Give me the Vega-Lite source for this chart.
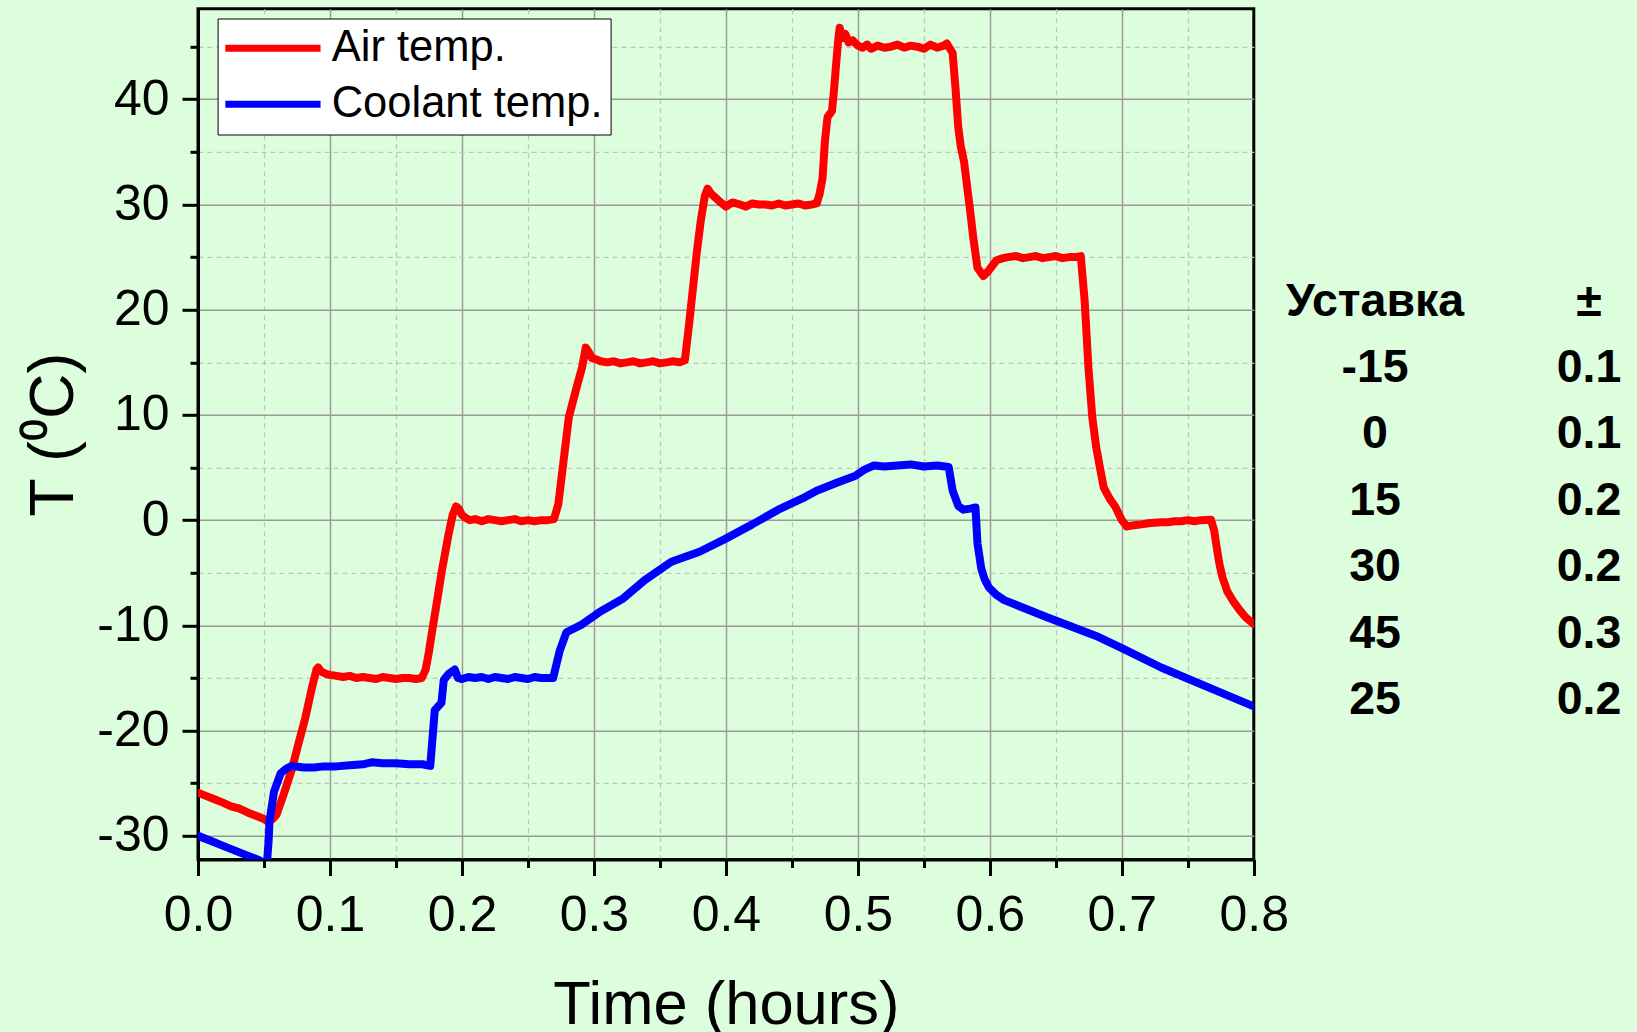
{
  "$schema": "https://vega.github.io/schema/vega-lite/v6.json",
  "background": "#DCFEDC",
  "padding": {"left": 21, "top": 6.8, "right": 20, "bottom": 0},
  "spacing": 121,
  "bounds": "flush",
  "hconcat": [
    {
      "width": 1055.8,
      "height": 850.7,
      "view": {"stroke": "black", "strokeWidth": 3},
      "data": {"values": [
        {"t":0,"T":-25.9,"s":"Air temp."},{"t":0.006,"T":-26.2,"s":"Air temp."},{"t":0.012,"T":-26.5,"s":"Air temp."},{"t":0.018,"T":-26.8,"s":"Air temp."},{"t":0.025,"T":-27.2,"s":"Air temp."},{"t":0.031,"T":-27.4,"s":"Air temp."},{"t":0.038,"T":-27.8,"s":"Air temp."},{"t":0.044,"T":-28.1,"s":"Air temp."},{"t":0.05,"T":-28.4,"s":"Air temp."},{"t":0.0535,"T":-28.7,"s":"Air temp."},{"t":0.0565,"T":-28.4,"s":"Air temp."},{"t":0.0595,"T":-28.0,"s":"Air temp."},{"t":0.0645,"T":-26.2,"s":"Air temp."},{"t":0.0711,"T":-23.7,"s":"Air temp."},{"t":0.0762,"T":-21.2,"s":"Air temp."},{"t":0.0813,"T":-18.8,"s":"Air temp."},{"t":0.0864,"T":-15.9,"s":"Air temp."},{"t":0.0897,"T":-14.2,"s":"Air temp."},{"t":0.091,"T":-14.0,"s":"Air temp."},{"t":0.0935,"T":-14.4,"s":"Air temp."},{"t":0.097,"T":-14.6,"s":"Air temp."},{"t":0.1,"T":-14.7,"s":"Air temp."},{"t":0.105,"T":-14.8,"s":"Air temp."},{"t":0.11,"T":-14.9,"s":"Air temp."},{"t":0.115,"T":-14.8,"s":"Air temp."},{"t":0.12,"T":-15.0,"s":"Air temp."},{"t":0.125,"T":-14.9,"s":"Air temp."},{"t":0.13,"T":-15.0,"s":"Air temp."},{"t":0.135,"T":-15.1,"s":"Air temp."},{"t":0.14,"T":-14.9,"s":"Air temp."},{"t":0.145,"T":-15.0,"s":"Air temp."},{"t":0.15,"T":-15.1,"s":"Air temp."},{"t":0.155,"T":-15.0,"s":"Air temp."},{"t":0.16,"T":-15.0,"s":"Air temp."},{"t":0.165,"T":-15.1,"s":"Air temp."},{"t":0.1695,"T":-15.0,"s":"Air temp."},{"t":0.1725,"T":-14.2,"s":"Air temp."},{"t":0.175,"T":-12.5,"s":"Air temp."},{"t":0.1777,"T":-10.3,"s":"Air temp."},{"t":0.181,"T":-7.8,"s":"Air temp."},{"t":0.1845,"T":-5.0,"s":"Air temp."},{"t":0.187,"T":-3.3,"s":"Air temp."},{"t":0.1896,"T":-1.5,"s":"Air temp."},{"t":0.193,"T":0.5,"s":"Air temp."},{"t":0.1955,"T":1.3,"s":"Air temp."},{"t":0.1975,"T":1.1,"s":"Air temp."},{"t":0.2,"T":0.5,"s":"Air temp."},{"t":0.203,"T":0.2,"s":"Air temp."},{"t":0.206,"T":0.0,"s":"Air temp."},{"t":0.21,"T":0.1,"s":"Air temp."},{"t":0.215,"T":-0.1,"s":"Air temp."},{"t":0.22,"T":0.1,"s":"Air temp."},{"t":0.225,"T":0.0,"s":"Air temp."},{"t":0.23,"T":-0.1,"s":"Air temp."},{"t":0.235,"T":0.0,"s":"Air temp."},{"t":0.24,"T":0.1,"s":"Air temp."},{"t":0.245,"T":-0.1,"s":"Air temp."},{"t":0.25,"T":0.0,"s":"Air temp."},{"t":0.255,"T":-0.1,"s":"Air temp."},{"t":0.26,"T":0.0,"s":"Air temp."},{"t":0.265,"T":0.0,"s":"Air temp."},{"t":0.2697,"T":0.1,"s":"Air temp."},{"t":0.273,"T":1.5,"s":"Air temp."},{"t":0.2759,"T":4.5,"s":"Air temp."},{"t":0.281,"T":9.8,"s":"Air temp."},{"t":0.2877,"T":13.0,"s":"Air temp."},{"t":0.291,"T":14.5,"s":"Air temp."},{"t":0.2938,"T":16.4,"s":"Air temp."},{"t":0.296,"T":16.0,"s":"Air temp."},{"t":0.2985,"T":15.4,"s":"Air temp."},{"t":0.3013,"T":15.3,"s":"Air temp."},{"t":0.305,"T":15.1,"s":"Air temp."},{"t":0.31,"T":15.0,"s":"Air temp."},{"t":0.315,"T":15.1,"s":"Air temp."},{"t":0.32,"T":14.9,"s":"Air temp."},{"t":0.325,"T":15.0,"s":"Air temp."},{"t":0.33,"T":15.1,"s":"Air temp."},{"t":0.335,"T":14.9,"s":"Air temp."},{"t":0.34,"T":15.0,"s":"Air temp."},{"t":0.345,"T":15.1,"s":"Air temp."},{"t":0.35,"T":14.9,"s":"Air temp."},{"t":0.355,"T":15.0,"s":"Air temp."},{"t":0.36,"T":15.1,"s":"Air temp."},{"t":0.365,"T":15.0,"s":"Air temp."},{"t":0.3689,"T":15.2,"s":"Air temp."},{"t":0.372,"T":18.5,"s":"Air temp."},{"t":0.375,"T":22.0,"s":"Air temp."},{"t":0.378,"T":25.5,"s":"Air temp."},{"t":0.381,"T":28.5,"s":"Air temp."},{"t":0.384,"T":30.8,"s":"Air temp."},{"t":0.3861,"T":31.5,"s":"Air temp."},{"t":0.389,"T":31.0,"s":"Air temp."},{"t":0.3934,"T":30.5,"s":"Air temp."},{"t":0.397,"T":30.1,"s":"Air temp."},{"t":0.4,"T":29.8,"s":"Air temp."},{"t":0.405,"T":30.2,"s":"Air temp."},{"t":0.4108,"T":30.0,"s":"Air temp."},{"t":0.415,"T":29.8,"s":"Air temp."},{"t":0.42,"T":30.1,"s":"Air temp."},{"t":0.425,"T":30.0,"s":"Air temp."},{"t":0.43,"T":30.0,"s":"Air temp."},{"t":0.435,"T":29.9,"s":"Air temp."},{"t":0.44,"T":30.1,"s":"Air temp."},{"t":0.445,"T":29.9,"s":"Air temp."},{"t":0.45,"T":30.0,"s":"Air temp."},{"t":0.455,"T":30.1,"s":"Air temp."},{"t":0.46,"T":29.9,"s":"Air temp."},{"t":0.465,"T":30.0,"s":"Air temp."},{"t":0.4688,"T":30.1,"s":"Air temp."},{"t":0.471,"T":31.0,"s":"Air temp."},{"t":0.4732,"T":32.5,"s":"Air temp."},{"t":0.475,"T":36.0,"s":"Air temp."},{"t":0.477,"T":38.3,"s":"Air temp."},{"t":0.4804,"T":38.9,"s":"Air temp."},{"t":0.482,"T":41.0,"s":"Air temp."},{"t":0.4833,"T":43.0,"s":"Air temp."},{"t":0.485,"T":45.5,"s":"Air temp."},{"t":0.4862,"T":46.8,"s":"Air temp."},{"t":0.488,"T":45.8,"s":"Air temp."},{"t":0.4905,"T":46.2,"s":"Air temp."},{"t":0.493,"T":45.4,"s":"Air temp."},{"t":0.496,"T":45.6,"s":"Air temp."},{"t":0.5,"T":45.1,"s":"Air temp."},{"t":0.5036,"T":44.9,"s":"Air temp."},{"t":0.507,"T":45.2,"s":"Air temp."},{"t":0.51,"T":44.8,"s":"Air temp."},{"t":0.515,"T":45.1,"s":"Air temp."},{"t":0.52,"T":44.9,"s":"Air temp."},{"t":0.525,"T":45.0,"s":"Air temp."},{"t":0.53,"T":45.2,"s":"Air temp."},{"t":0.535,"T":44.9,"s":"Air temp."},{"t":0.54,"T":45.1,"s":"Air temp."},{"t":0.545,"T":45.0,"s":"Air temp."},{"t":0.55,"T":44.8,"s":"Air temp."},{"t":0.555,"T":45.2,"s":"Air temp."},{"t":0.56,"T":44.9,"s":"Air temp."},{"t":0.565,"T":45.1,"s":"Air temp."},{"t":0.5674,"T":45.3,"s":"Air temp."},{"t":0.5718,"T":44.4,"s":"Air temp."},{"t":0.574,"T":41.0,"s":"Air temp."},{"t":0.5761,"T":37.3,"s":"Air temp."},{"t":0.578,"T":35.5,"s":"Air temp."},{"t":0.5804,"T":34.1,"s":"Air temp."},{"t":0.5825,"T":32.0,"s":"Air temp."},{"t":0.5848,"T":29.7,"s":"Air temp."},{"t":0.5875,"T":26.8,"s":"Air temp."},{"t":0.5906,"T":24.0,"s":"Air temp."},{"t":0.595,"T":23.2,"s":"Air temp."},{"t":0.599,"T":23.7,"s":"Air temp."},{"t":0.6051,"T":24.7,"s":"Air temp."},{"t":0.61,"T":24.9,"s":"Air temp."},{"t":0.6138,"T":25.0,"s":"Air temp."},{"t":0.62,"T":25.1,"s":"Air temp."},{"t":0.625,"T":24.9,"s":"Air temp."},{"t":0.63,"T":25.0,"s":"Air temp."},{"t":0.635,"T":25.1,"s":"Air temp."},{"t":0.64,"T":24.9,"s":"Air temp."},{"t":0.645,"T":25.0,"s":"Air temp."},{"t":0.65,"T":25.1,"s":"Air temp."},{"t":0.655,"T":24.9,"s":"Air temp."},{"t":0.66,"T":25.0,"s":"Air temp."},{"t":0.665,"T":25.0,"s":"Air temp."},{"t":0.6689,"T":25.1,"s":"Air temp."},{"t":0.6718,"T":20.9,"s":"Air temp."},{"t":0.6747,"T":14.5,"s":"Air temp."},{"t":0.6776,"T":9.8,"s":"Air temp."},{"t":0.6805,"T":7.0,"s":"Air temp."},{"t":0.6834,"T":5.0,"s":"Air temp."},{"t":0.6863,"T":3.1,"s":"Air temp."},{"t":0.691,"T":2.0,"s":"Air temp."},{"t":0.695,"T":1.3,"s":"Air temp."},{"t":0.7,"T":0.0,"s":"Air temp."},{"t":0.7037,"T":-0.6,"s":"Air temp."},{"t":0.708,"T":-0.5,"s":"Air temp."},{"t":0.715,"T":-0.4,"s":"Air temp."},{"t":0.72,"T":-0.3,"s":"Air temp."},{"t":0.7298,"T":-0.2,"s":"Air temp."},{"t":0.735,"T":-0.2,"s":"Air temp."},{"t":0.74,"T":-0.1,"s":"Air temp."},{"t":0.745,"T":-0.1,"s":"Air temp."},{"t":0.75,"T":0.0,"s":"Air temp."},{"t":0.755,"T":-0.1,"s":"Air temp."},{"t":0.76,"T":0.0,"s":"Air temp."},{"t":0.7675,"T":0.05,"s":"Air temp."},{"t":0.77,"T":-1.0,"s":"Air temp."},{"t":0.7718,"T":-2.5,"s":"Air temp."},{"t":0.774,"T":-4.2,"s":"Air temp."},{"t":0.7762,"T":-5.4,"s":"Air temp."},{"t":0.78,"T":-6.8,"s":"Air temp."},{"t":0.7849,"T":-7.8,"s":"Air temp."},{"t":0.789,"T":-8.5,"s":"Air temp."},{"t":0.7936,"T":-9.2,"s":"Air temp."},{"t":0.8,"T":-9.9,"s":"Air temp."},
        {"t":0,"T":-30.0,"s":"Coolant temp."},{"t":0.01,"T":-30.5,"s":"Coolant temp."},{"t":0.02,"T":-31.0,"s":"Coolant temp."},{"t":0.03,"T":-31.5,"s":"Coolant temp."},{"t":0.04,"T":-32.0,"s":"Coolant temp."},{"t":0.046,"T":-32.3,"s":"Coolant temp."},{"t":0.05,"T":-32.6,"s":"Coolant temp."},{"t":0.052,"T":-33.0,"s":"Coolant temp."},{"t":0.0535,"T":-30.5,"s":"Coolant temp."},{"t":0.0542,"T":-28.6,"s":"Coolant temp."},{"t":0.0576,"T":-25.8,"s":"Coolant temp."},{"t":0.0627,"T":-24.05,"s":"Coolant temp."},{"t":0.067,"T":-23.6,"s":"Coolant temp."},{"t":0.0711,"T":-23.35,"s":"Coolant temp."},{"t":0.08,"T":-23.5,"s":"Coolant temp."},{"t":0.0881,"T":-23.5,"s":"Coolant temp."},{"t":0.095,"T":-23.4,"s":"Coolant temp."},{"t":0.105,"T":-23.4,"s":"Coolant temp."},{"t":0.115,"T":-23.3,"s":"Coolant temp."},{"t":0.125,"T":-23.2,"s":"Coolant temp."},{"t":0.132,"T":-23.0,"s":"Coolant temp."},{"t":0.14,"T":-23.1,"s":"Coolant temp."},{"t":0.15,"T":-23.1,"s":"Coolant temp."},{"t":0.16,"T":-23.2,"s":"Coolant temp."},{"t":0.17,"T":-23.2,"s":"Coolant temp."},{"t":0.176,"T":-23.35,"s":"Coolant temp."},{"t":0.1794,"T":-18.05,"s":"Coolant temp."},{"t":0.1845,"T":-17.35,"s":"Coolant temp."},{"t":0.1862,"T":-15.2,"s":"Coolant temp."},{"t":0.19,"T":-14.6,"s":"Coolant temp."},{"t":0.1946,"T":-14.2,"s":"Coolant temp."},{"t":0.197,"T":-15.0,"s":"Coolant temp."},{"t":0.2,"T":-15.1,"s":"Coolant temp."},{"t":0.205,"T":-14.9,"s":"Coolant temp."},{"t":0.21,"T":-15.0,"s":"Coolant temp."},{"t":0.215,"T":-14.9,"s":"Coolant temp."},{"t":0.22,"T":-15.1,"s":"Coolant temp."},{"t":0.225,"T":-14.9,"s":"Coolant temp."},{"t":0.23,"T":-15.0,"s":"Coolant temp."},{"t":0.235,"T":-15.1,"s":"Coolant temp."},{"t":0.24,"T":-14.9,"s":"Coolant temp."},{"t":0.245,"T":-15.0,"s":"Coolant temp."},{"t":0.25,"T":-15.1,"s":"Coolant temp."},{"t":0.255,"T":-14.9,"s":"Coolant temp."},{"t":0.26,"T":-15.0,"s":"Coolant temp."},{"t":0.2691,"T":-15.0,"s":"Coolant temp."},{"t":0.2741,"T":-12.4,"s":"Coolant temp."},{"t":0.2792,"T":-10.65,"s":"Coolant temp."},{"t":0.2911,"T":-9.9,"s":"Coolant temp."},{"t":0.3046,"T":-8.7,"s":"Coolant temp."},{"t":0.3215,"T":-7.5,"s":"Coolant temp."},{"t":0.3385,"T":-5.7,"s":"Coolant temp."},{"t":0.3587,"T":-3.95,"s":"Coolant temp."},{"t":0.38,"T":-3.0,"s":"Coolant temp."},{"t":0.3992,"T":-1.8,"s":"Coolant temp."},{"t":0.42,"T":-0.4,"s":"Coolant temp."},{"t":0.4397,"T":1.0,"s":"Coolant temp."},{"t":0.46,"T":2.2,"s":"Coolant temp."},{"t":0.4688,"T":2.8,"s":"Coolant temp."},{"t":0.485,"T":3.6,"s":"Coolant temp."},{"t":0.4978,"T":4.2,"s":"Coolant temp."},{"t":0.505,"T":4.8,"s":"Coolant temp."},{"t":0.5123,"T":5.2,"s":"Coolant temp."},{"t":0.52,"T":5.1,"s":"Coolant temp."},{"t":0.53,"T":5.2,"s":"Coolant temp."},{"t":0.54,"T":5.3,"s":"Coolant temp."},{"t":0.55,"T":5.1,"s":"Coolant temp."},{"t":0.56,"T":5.2,"s":"Coolant temp."},{"t":0.5688,"T":5.05,"s":"Coolant temp."},{"t":0.5718,"T":2.8,"s":"Coolant temp."},{"t":0.5761,"T":1.35,"s":"Coolant temp."},{"t":0.58,"T":1.0,"s":"Coolant temp."},{"t":0.585,"T":1.1,"s":"Coolant temp."},{"t":0.5891,"T":1.2,"s":"Coolant temp."},{"t":0.5906,"T":-2.2,"s":"Coolant temp."},{"t":0.5935,"T":-4.6,"s":"Coolant temp."},{"t":0.596,"T":-5.6,"s":"Coolant temp."},{"t":0.5993,"T":-6.4,"s":"Coolant temp."},{"t":0.605,"T":-7.1,"s":"Coolant temp."},{"t":0.6109,"T":-7.6,"s":"Coolant temp."},{"t":0.6428,"T":-9.2,"s":"Coolant temp."},{"t":0.6805,"T":-11.0,"s":"Coolant temp."},{"t":0.7008,"T":-12.2,"s":"Coolant temp."},{"t":0.7298,"T":-14.0,"s":"Coolant temp."},{"t":0.7733,"T":-16.3,"s":"Coolant temp."},{"t":0.8,"T":-17.7,"s":"Coolant temp."}
      ]},
      "resolve": {"axis": {"x": "independent", "y": "independent"}},
      "layer": [
        {
          "mark": {"type": "line", "opacity": 0},
          "encoding": {
            "x": {"field": "t", "type": "quantitative", "scale": {"domain": [0, 0.8], "nice": false, "zero": false},
              "axis": {"orient": "bottom", "values": [0.1, 0.2, 0.3, 0.4, 0.5, 0.6, 0.7], "grid": true, "gridColor": "#9a9a9a", "gridWidth": 1.5, "ticks": false, "labels": false, "domain": false, "title": null}},
            "y": {"field": "T", "type": "quantitative", "scale": {"domain": [-32.25, 48.6], "nice": false, "zero": false},
              "axis": {"orient": "left", "values": [-30, -20, -10, 0, 10, 20, 30, 40], "grid": true, "gridColor": "#9a9a9a", "gridWidth": 1.5, "ticks": false, "labels": false, "domain": false, "title": null}}
          }
        },
        {
          "mark": {"type": "line", "opacity": 0},
          "encoding": {
            "x": {"field": "t", "type": "quantitative", "scale": {"domain": [0, 0.8], "nice": false, "zero": false},
              "axis": {"orient": "bottom", "values": [0.05, 0.15, 0.25, 0.35, 0.45, 0.55, 0.65, 0.75], "grid": true, "gridColor": "#c2c2c2", "gridWidth": 1.3, "gridDash": [5, 4], "ticks": true, "tickSize": 8, "tickWidth": 3, "tickColor": "black", "labels": false, "domain": false, "title": null}},
            "y": {"field": "T", "type": "quantitative", "scale": {"domain": [-32.25, 48.6], "nice": false, "zero": false},
              "axis": {"orient": "left", "values": [-25, -15, -5, 5, 15, 25, 35, 45], "grid": true, "gridColor": "#c2c2c2", "gridWidth": 1.3, "gridDash": [5, 4], "ticks": true, "tickSize": 8, "tickWidth": 3, "tickColor": "black", "labels": false, "domain": false, "title": null}}
          }
        },
        {
          "mark": {"type": "line", "strokeWidth": 8, "strokeJoin": "round", "strokeCap": "round", "clip": true},
          "encoding": {
            "x": {"field": "t", "type": "quantitative", "scale": {"domain": [0, 0.8], "nice": false, "zero": false},
              "axis": {"orient": "bottom", "values": [0, 0.1, 0.2, 0.3, 0.4, 0.5, 0.6, 0.7, 0.8], "format": ".1f", "grid": false, "domain": true, "domainColor": "black", "domainWidth": 3, "ticks": true, "tickSize": 16, "tickWidth": 3, "tickColor": "black", "labelFont": "Liberation Sans", "labelFontSize": 50, "labelColor": "black", "labelPadding": 15, "labelFlush": false, "labelOverlap": false, "title": "Time (hours)", "titleFont": "Liberation Sans", "titleFontSize": 61.5, "titleFontWeight": "normal", "titleColor": "black", "titlePadding": 34}},
            "y": {"field": "T", "type": "quantitative", "scale": {"domain": [-32.25, 48.6], "nice": false, "zero": false},
              "axis": {"orient": "left", "values": [-30, -20, -10, 0, 10, 20, 30, 40], "labelExpr": "datum.value < 0 ? '-' + format(-datum.value, 'd') : format(datum.value, 'd')", "grid": false, "domain": true, "domainColor": "black", "domainWidth": 3, "ticks": true, "tickSize": 16, "tickWidth": 3, "tickColor": "black", "labelFont": "Liberation Sans", "labelFontSize": 50, "labelColor": "black", "labelPadding": 13, "labelOverlap": false, "title": "T (⁰C)", "titleFont": "Liberation Sans", "titleFontSize": 63, "titleFontWeight": "normal", "titleColor": "black", "titlePadding": 11}},
            "color": {"field": "s", "type": "nominal",
              "scale": {"domain": ["Air temp.", "Coolant temp."], "range": ["#FF0000", "#0000FF"]},
              "legend": {"orient": "none", "legendX": 19.6, "legendY": 9.7, "title": null,
                "symbolType": "M-3.4,0H3.4", "symbolSize": 784, "symbolStrokeWidth": 7, "symbolOffset": 25.6,
                "labelOffset": 37, "labelFont": "Liberation Sans", "labelFontSize": 43.5, "labelColor": "black", "labelLimit": 500,
                "rowPadding": 11, "padding": 8, "fillColor": "white", "strokeColor": "black"}}
          }
        }
      ]
    },
    {
      "width": 214,
      "height": 850.7,
      "view": {"stroke": null},
      "data": {"values": [
        {"row": 0, "col": "Уставка", "val": "Уставка"}, {"row": 0, "col": "±", "val": "±"},
        {"row": 1, "col": "Уставка", "val": "-15"}, {"row": 1, "col": "±", "val": "0.1"},
        {"row": 2, "col": "Уставка", "val": "0"}, {"row": 2, "col": "±", "val": "0.1"},
        {"row": 3, "col": "Уставка", "val": "15"}, {"row": 3, "col": "±", "val": "0.2"},
        {"row": 4, "col": "Уставка", "val": "30"}, {"row": 4, "col": "±", "val": "0.2"},
        {"row": 5, "col": "Уставка", "val": "45"}, {"row": 5, "col": "±", "val": "0.3"},
        {"row": 6, "col": "Уставка", "val": "25"}, {"row": 6, "col": "±", "val": "0.2"}
      ]},
      "mark": {"type": "text", "font": "Liberation Sans", "fontWeight": "bold", "fontSize": 46.5, "baseline": "alphabetic", "align": "center", "color": "black"},
      "encoding": {
        "x": {"field": "col", "type": "nominal", "scale": {"type": "point", "padding": 0, "domain": ["Уставка", "±"]}, "axis": null},
        "y": {"field": "row", "type": "quantitative", "scale": {"domain": [-4.62, 8.19], "reverse": true, "nice": false, "zero": false}, "axis": null},
        "text": {"field": "val"}
      }
    }
  ]
}
